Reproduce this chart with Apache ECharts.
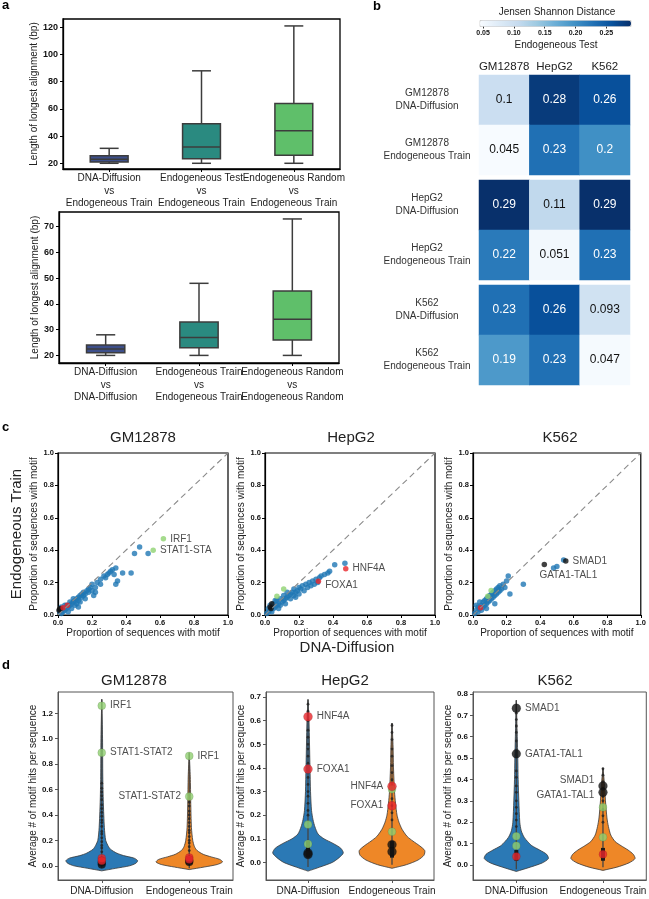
<!DOCTYPE html>
<html><head><meta charset="utf-8">
<script src="https://cdn.jsdelivr.net/npm/echarts@6/dist/echarts.min.js"></script>
<style>html,body{margin:0;padding:0;background:#fff}#c{width:649px;height:899px}</style>
</head><body><div id="c"></div>
<script>
const FONT = '"Liberation Sans", Arial, Helvetica, sans-serif';
const TXT = '#222';

// ---------------- Panel a data ----------------
const aTopCategories = ['DNA-Diffusion\nvs\nEndogeneous Train', 'Endogeneous Test\nvs\nEndogeneous Train', 'Endogeneous Random\nvs\nEndogeneous Train'];
const aTopStats = [[20, 21, 22.9, 25.6, 31], [20, 23.4, 32, 49, 88], [20, 26, 44, 64, 121]]; // min,q1,med,q3,max
const aTopTicks = [20, 40, 60, 80, 100, 120];
const aBotCategories = ['DNA-Diffusion\nvs\nDNA-Diffusion', 'Endogeneous Train\nvs\nEndogeneous Train', 'Endogeneous Random\nvs\nEndogeneous Random'];
const aBotStats = [[20, 21, 22.5, 24, 28], [20, 23, 27, 33, 48], [20, 26, 34, 45, 73]];
const aBotTicks = [20, 30, 40, 50, 60, 70];
const boxColors = ['#3d4f8a', '#2a8a80', '#5fbf6a'];

// ---------------- Panel b data ----------------
const hmColumns = ['GM12878', 'HepG2', 'K562'];
const hmRowsGM = ['GM12878\nDNA-Diffusion', 'GM12878\nEndogeneous Train'];
const hmRowsHep = ['HepG2\nDNA-Diffusion', 'HepG2\nEndogeneous Train'];
const hmRowsK = ['K562\nDNA-Diffusion', 'K562\nEndogeneous Train'];
const hmValuesGM = [[0.1, 0.28, 0.26], [0.045, 0.23, 0.2]];
const hmValuesHep = [[0.29, 0.11, 0.29], [0.22, 0.051, 0.23]];
const hmValuesK = [[0.23, 0.26, 0.093], [0.19, 0.23, 0.047]];
const cbTicks = [0.05, 0.10, 0.15, 0.20, 0.25];
const BLUES = ['#f7fbff', '#deebf7', '#c6dbef', '#9ecae1', '#6baed6', '#4292c6', '#2171b5', '#08519c', '#08306b'];

// ---------------- Panel c data ----------------
const cTicks = [0, 0.2, 0.4, 0.6, 0.8, 1.0];
const cGmBlue = [[0.01,0.02],[0.02,0.01],[0.02,0.03],[0.03,0.02],[0.03,0.04],[0.04,0.03],[0.05,0.04],[0.05,0.06],[0.06,0.05],[0.07,0.06],[0.07,0.08],[0.08,0.07],[0.09,0.08],[0.09,0.10],[0.10,0.09],[0.11,0.10],[0.11,0.07],[0.12,0.11],[0.12,0.09],[0.13,0.12],[0.14,0.11],[0.14,0.13],[0.15,0.12],[0.15,0.14],[0.16,0.13],[0.17,0.15],[0.18,0.14],[0.18,0.16],[0.19,0.17],[0.20,0.15],[0.20,0.19],[0.21,0.12],[0.22,0.17],[0.23,0.20],[0.25,0.19],[0.27,0.24],[0.28,0.23],[0.29,0.25],[0.30,0.26],[0.31,0.27],[0.32,0.28],[0.33,0.25],[0.34,0.29],[0.35,0.21],[0.34,0.19],[0.38,0.26],[0.43,0.26],[0.45,0.38],[0.48,0.42],[0.53,0.38],[0.02,0.05],[0.04,0.06],[0.06,0.02],[0.08,0.04],[0.10,0.06],[0.12,0.05],[0.13,0.08],[0.16,0.10],[0.22,0.14],[0.25,0.22]];
const cGmGreen = [[0.62, 0.47], [0.56, 0.40]];
const cGmGreenNames = ['IRF1', 'STAT1-STA'];
const cGmRed = [[0.055, 0.06], [0.03, 0.045]];
const cGmBlack = [[0.006, 0.03], [0.01, 0.035], [0.015, 0.04]];

const cHepBlue = [[0.01,0.01],[0.02,0.02],[0.02,0.04],[0.03,0.03],[0.04,0.02],[0.04,0.05],[0.05,0.04],[0.05,0.07],[0.06,0.05],[0.07,0.06],[0.07,0.09],[0.08,0.07],[0.09,0.06],[0.09,0.10],[0.10,0.08],[0.11,0.09],[0.11,0.12],[0.12,0.10],[0.13,0.11],[0.13,0.14],[0.14,0.12],[0.15,0.10],[0.15,0.13],[0.16,0.14],[0.17,0.12],[0.17,0.16],[0.18,0.14],[0.19,0.15],[0.20,0.13],[0.20,0.17],[0.21,0.16],[0.22,0.18],[0.23,0.15],[0.24,0.19],[0.25,0.17],[0.26,0.20],[0.27,0.18],[0.28,0.21],[0.29,0.19],[0.30,0.22],[0.31,0.20],[0.32,0.23],[0.33,0.24],[0.35,0.25],[0.37,0.26],[0.38,0.27],[0.41,0.31],[0.47,0.32],[0.08,0.04],[0.12,0.07],[0.18,0.11],[0.06,0.09],[0.03,0.06]];
const cHepGreen = [[0.11, 0.16], [0.07, 0.115]];
const cHepRed = [[0.475, 0.286], [0.314, 0.209]];
const cHepRedNames = ['HNF4A', 'FOXA1'];
const cHepBlack = [[0.04, 0.07], [0.035, 0.04], [0.03, 0.05]];

const cKBlue = [[0.01,0.01],[0.02,0.03],[0.03,0.02],[0.03,0.05],[0.04,0.04],[0.05,0.03],[0.05,0.06],[0.06,0.05],[0.06,0.08],[0.07,0.06],[0.07,0.09],[0.08,0.07],[0.08,0.10],[0.09,0.08],[0.09,0.11],[0.10,0.09],[0.10,0.12],[0.11,0.10],[0.11,0.13],[0.12,0.11],[0.12,0.14],[0.13,0.12],[0.13,0.15],[0.14,0.13],[0.14,0.16],[0.15,0.14],[0.15,0.17],[0.16,0.15],[0.16,0.18],[0.17,0.16],[0.18,0.19],[0.19,0.17],[0.20,0.21],[0.21,0.24],[0.13,0.07],[0.22,0.13],[0.30,0.19],[0.48,0.29],[0.50,0.30],[0.54,0.34],[0.02,0.06],[0.04,0.08],[0.08,0.04]];
const cKGreen = [[0.108, 0.152], [0.088, 0.115]];
const cKRed = [[0.045, 0.045]];
const cKBlack = [[0.553, 0.333], [0.425, 0.311]];
const cKBlackNames = ['SMAD1', 'GATA1-TAL1'];

// ---------------- Panel d data ----------------
const dCats = ['DNA-Diffusion', 'Endogeneous Train'];
const dGmTicks = [0, 0.2, 0.4, 0.6, 0.8, 1.0, 1.2];
const dHepTicks = [0, 0.1, 0.2, 0.3, 0.4, 0.5, 0.6, 0.7];
const dKTicks = [0, 0.1, 0.2, 0.3, 0.4, 0.5, 0.6, 0.7, 0.8];
// violin profiles: y values and half-width (fraction of category band)
const vGmDnaY = [-0.04,-0.02,0,0.02,0.04,0.06,0.08,0.10,0.13,0.16,0.2,0.3,0.5,0.7,1.0,1.31];
const vGmDnaW = [0,0.16,0.32,0.39,0.41,0.37,0.25,0.17,0.10,0.07,0.045,0.03,0.018,0.012,0.009,0];
const vGmEndoY = [-0.03,-0.01,0.01,0.03,0.05,0.07,0.09,0.12,0.15,0.2,0.3,0.5,0.7,0.89];
const vGmEndoW = [0,0.17,0.32,0.38,0.35,0.25,0.16,0.09,0.06,0.04,0.025,0.017,0.012,0];
const vHepDnaY = [-0.037,-0.02,0,0.02,0.04,0.06,0.08,0.10,0.12,0.15,0.18,0.22,0.3,0.4,0.5,0.6,0.69];
const vHepDnaW = [0,0.14,0.29,0.37,0.42,0.39,0.30,0.19,0.12,0.083,0.06,0.042,0.03,0.024,0.018,0.012,0];
const vHepEndoY = [-0.025,-0.01,0.01,0.03,0.05,0.07,0.09,0.11,0.14,0.17,0.2,0.25,0.3,0.4,0.5,0.59];
const vHepEndoW = [0,0.17,0.31,0.38,0.39,0.33,0.25,0.18,0.12,0.083,0.06,0.042,0.03,0.018,0.012,0];
const vKDnaY = [-0.03,-0.01,0.01,0.03,0.05,0.07,0.09,0.11,0.13,0.16,0.2,0.3,0.4,0.5,0.6,0.77];
const vKDnaW = [0,0.16,0.30,0.37,0.35,0.27,0.18,0.13,0.09,0.057,0.04,0.029,0.021,0.017,0.011,0];
const vKEndoY = [-0.025,-0.01,0.01,0.03,0.05,0.07,0.09,0.11,0.14,0.18,0.22,0.3,0.38,0.455];
const vKEndoW = [0,0.16,0.30,0.37,0.35,0.29,0.21,0.14,0.09,0.063,0.046,0.029,0.017,0];
// inner stick: [cat, low, q1, q3, high]
const dGmInner = [[0,-0.02,0.01,0.07,1.31],[1,-0.02,0.02,0.07,0.89]];
const dHepInner = [[0,-0.02,0.02,0.09,0.69],[1,-0.01,0.02,0.09,0.59]];
const dKInner = [[0,-0.02,0.02,0.07,0.77],[1,-0.01,0.02,0.08,0.455]];
// small strip dots
const dGmDots = [[0,0.11],[0,0.14],[0,0.16],[0,0.19],[0,0.22],[0,0.25],[0,0.27],[0,0.31],[0,0.34],[0,0.36],[0,0.39],[0,0.42],[0,0.45],[0,0.48],[0,0.52],[0,0.55],[0,0.58],[0,0.61],[0,0.65],[1,0.12],[1,0.15],[1,0.18],[1,0.2],[1,0.23],[1,0.26],[1,0.28],[1,0.31],[1,0.34],[1,0.37],[1,0.4],[1,0.43],[1,0.47],[1,0.5]];
const dHepDots = [[0,0.2],[0,0.22],[0,0.25],[0,0.28],[0,0.3],[0,0.33],[0,0.36],[0,0.42],[0,0.45],[0,0.48],[0,0.5],[0,0.53],[0,0.56],[0,0.6],[0,0.64],[0,0.67],[1,0.18],[1,0.21],[1,0.24],[1,0.27],[1,0.35],[1,0.38],[1,0.41],[1,0.45],[1,0.48],[1,0.52],[1,0.55],[1,0.58]];
const dKDots = [[0,0.18],[0,0.21],[0,0.24],[0,0.27],[0,0.3],[0,0.34],[0,0.37],[0,0.41],[0,0.44],[0,0.58],[0,0.62],[0,0.65],[0,0.68],[0,0.71],[1,0.2],[1,0.23],[1,0.26],[1,0.3],[1,0.32],[1,0.36],[1,0.39],[1,0.42],[1,0.45]];
// highlighted motifs: [cat, y, label, side, dy]
const dGmGreen = [[0,1.26,'IRF1','right',0],[0,0.89,'STAT1-STAT2','right',0],[1,0.865,'IRF1','right',0],[1,0.545,'STAT1-STAT2','left',0]];
const dGmRed = [[0,0.06],[0,0.04],[1,0.065],[1,0.05]];
const dGmBlack = [[0,0.01],[0,0.025],[1,0.03],[1,0.04]];
const dHepRed = [[0,0.617,'HNF4A','right',0],[0,0.395,'FOXA1','right',0],[1,0.322,'HNF4A','left',0],[1,0.24,'FOXA1','left',0]];
const dHepGreen = [[0,0.16],[0,0.078],[1,0.31],[1,0.13]];
const dHepBlack = [[0,0.04],[0,0.033],[1,0.075],[1,0.045]];
const dKBlack = [[0,0.733,'SMAD1','right',0],[0,0.52,'GATA1-TAL1','right',0],[1,0.37,'SMAD1','left',-6],[1,0.34,'GATA1-TAL1','left',3]];
const dKGreen = [[0,0.135],[0,0.09],[1,0.27],[1,0.13]];
const dKRed = [[0,0.04],[1,0.05]];

// ---------------- build ----------------
const grids = [], xAxes = [], yAxes = [], series = [];
function addGrid(g, x, y) { const i = grids.length; grids.push(g); x.gridIndex = i; y.gridIndex = i; xAxes.push(x); yAxes.push(y); return i; }

const tickLabel = (size) => ({ fontSize: size, fontWeight: 'bold', color: '#111', fontFamily: FONT });

// Panel a
function boxRender(params, api) {
  const c = api.value(0);
  const band = api.size([1, 0])[0];
  const bw = band * 0.41, cw = bw * 0.5;
  const pMin = api.coord([c, api.value(1)]), pQ1 = api.coord([c, api.value(2)]), pMed = api.coord([c, api.value(3)]),
        pQ3 = api.coord([c, api.value(4)]), pMax = api.coord([c, api.value(5)]);
  const x = pMin[0], st = { stroke: '#3c3c3c', lineWidth: 1.5 };
  return { type: 'group', children: [
    { type: 'line', shape: { x1: x, y1: pMin[1], x2: x, y2: pQ1[1] }, style: st },
    { type: 'line', shape: { x1: x, y1: pQ3[1], x2: x, y2: pMax[1] }, style: st },
    { type: 'line', shape: { x1: x - cw / 2, y1: pMin[1], x2: x + cw / 2, y2: pMin[1] }, style: st },
    { type: 'line', shape: { x1: x - cw / 2, y1: pMax[1], x2: x + cw / 2, y2: pMax[1] }, style: st },
    { type: 'rect', shape: { x: x - bw / 2, y: pQ3[1], width: bw, height: pQ1[1] - pQ3[1] }, style: { fill: boxColors[params.dataIndex], stroke: '#3c3c3c', lineWidth: 1.5 } },
    { type: 'line', shape: { x1: x - bw / 2, y1: pMed[1], x2: x + bw / 2, y2: pMed[1] }, style: st }
  ] };
}
function boxPanel(rect, cats, stats, min, max, ticks, gap) {
  const gi = addGrid(Object.assign({ show: true, borderColor: '#000', borderWidth: 1.3, containLabel: false }, rect),
    { type: 'category', data: cats, axisLine: { show: true, onZero: false, lineStyle: { color: '#000', width: 1.3 } },
      axisTick: { show: true, alignWithLabel: true, length: 3, lineStyle: { color: '#000' } },
      axisLabel: { interval: 0, fontSize: 10, lineHeight: 12.5, color: TXT, margin: 3, fontFamily: FONT, hideOverlap: false } },
    { type: 'value', min: min, max: max, splitLine: { show: false },
      axisLine: { show: true, onZero: false, lineStyle: { color: '#000', width: 1.3 } },
      axisTick: { show: true, length: 3, customValues: ticks, lineStyle: { color: '#000' } },
      axisLabel: Object.assign({ customValues: ticks, margin: 5 }, tickLabel(9)),
      name: 'Length of longest alignment (bp)', nameLocation: 'middle', nameGap: gap,
      nameTextStyle: { fontSize: 10, color: TXT, fontFamily: FONT } });
  series.push({ type: 'custom', xAxisIndex: gi, yAxisIndex: gi, renderItem: boxRender, clip: false,
    encode: { x: 0, y: [1, 2, 3, 4, 5] }, data: stats.map((s, i) => [i].concat(s)) });
}
boxPanel({ left: 63, top: 19, width: 277, height: 150 }, aTopCategories, aTopStats, 15.8, 126.1, aTopTicks, 24);
boxPanel({ left: 59, top: 212, width: 280, height: 151 }, aBotCategories, aBotStats, 17.05, 75.7, aBotTicks, 18);

// Panel b colorbar axis
const cbi = addGrid({ left: 480, top: 20.5, width: 151, height: 6, show: true, borderColor: '#aaa', borderWidth: 0.5 },
  { type: 'value', min: 0.045, max: 0.29, splitLine: { show: false }, axisLine: { show: false },
    axisTick: { show: true, length: 2, customValues: cbTicks, lineStyle: { color: '#333' } },
    axisLabel: Object.assign({ customValues: cbTicks, margin: 3, formatter: v => v.toFixed(2) }, tickLabel(7)) },
  { type: 'category', data: [''], show: false });
series.push({ type: 'scatter', xAxisIndex: cbi, yAxisIndex: cbi, data: [], silent: true });

const heatIdx = [];
[[hmRowsGM, hmValuesGM], [hmRowsHep, hmValuesHep], [hmRowsK, hmValuesK]].forEach((pair, g) => {
  const gi = addGrid({ left: 479, top: 75 + 105 * g, width: 151, height: 100 },
    { type: 'category', data: hmColumns, position: 'top', show: g === 0, axisLine: { show: false }, axisTick: { show: false },
      axisLabel: { interval: 0, hideOverlap: false, fontSize: 11.5, color: TXT, margin: 2, fontFamily: FONT } },
    { type: 'category', data: pair[0], inverse: true, axisLine: { show: false }, axisTick: { show: false },
      axisLabel: { interval: 0, align: 'center', margin: 52, fontSize: 10, lineHeight: 12.6, color: '#333', fontFamily: FONT } });
  const data = [];
  pair[1].forEach((row, r) => row.forEach((v, c) => data.push({ value: [c, r, v], label: { color: v > 0.15 ? '#fff' : '#111' } })));
  heatIdx.push(series.length);
  series.push({ type: 'heatmap', xAxisIndex: gi, yAxisIndex: gi, data: data, emphasis: { disabled: true },
    label: { show: true, fontSize: 12, fontFamily: FONT, formatter: p => String(p.value[2]) } });
});

// Panel c
function labeled(points, names, side, offset) {
  return points.map((p, i) => ({ value: p, label: names && names[i] ? { show: true, formatter: names[i], position: side || 'right', distance: 4, offset: offset ? offset[i] : [0, 0], fontSize: 10, color: TXT, fontFamily: FONT } : { show: false } }));
}
function scatterPanel(left, blue, black, red, green, lbl) {
  const gi = addGrid({ left: left, top: 453, width: 170, height: 162, show: true, borderColor: '#000', borderWidth: 1.2 },
    { type: 'value', min: 0, max: 1, interval: 0.2, splitLine: { show: false },
      axisLine: { show: true, lineStyle: { color: '#000', width: 1.2 } }, axisTick: { show: true, length: 3, lineStyle: { color: '#000' } },
      axisLabel: Object.assign({ margin: 4, formatter: v => v.toFixed(1) }, tickLabel(7.5)),
      name: 'Proportion of sequences with motif', nameLocation: 'middle', nameGap: 13, nameTextStyle: { fontSize: 10, color: TXT, fontFamily: FONT } },
    { type: 'value', min: 0, max: 1, interval: 0.2, splitLine: { show: false },
      axisLine: { show: true, lineStyle: { color: '#000', width: 1.2 } }, axisTick: { show: true, length: 3, lineStyle: { color: '#000' } },
      axisLabel: Object.assign({ margin: 4, formatter: v => v.toFixed(1) }, tickLabel(7.5)),
      name: 'Proportion of sequences with motif', nameLocation: 'middle', nameGap: 15, nameTextStyle: { fontSize: 10, color: TXT, fontFamily: FONT } });
  series.push({ type: 'line', xAxisIndex: gi, yAxisIndex: gi, data: [[0, 0], [1, 1]], symbol: 'none', silent: true,
    lineStyle: { color: '#8a8a8a', width: 1.1, type: [6, 4] } });
  series.push({ type: 'scatter', xAxisIndex: gi, yAxisIndex: gi, data: blue, symbolSize: 5.5, itemStyle: { color: '#1f77b4' } });
  series.push({ type: 'scatter', xAxisIndex: gi, yAxisIndex: gi, data: lbl.black || black, symbolSize: 5.5, itemStyle: { color: '#111' } });
  series.push({ type: 'scatter', xAxisIndex: gi, yAxisIndex: gi, data: lbl.red || red, symbolSize: 5.5, itemStyle: { color: '#e8262a' } });
  series.push({ type: 'scatter', xAxisIndex: gi, yAxisIndex: gi, data: lbl.green || green, symbolSize: 5.5, itemStyle: { color: '#8fd270' } });
}
scatterPanel(58, cGmBlue, cGmBlack, cGmRed, cGmGreen, { green: labeled(cGmGreen, cGmGreenNames, 'right') });
scatterPanel(265, cHepBlue, cHepBlack, cHepRed, cHepGreen, { red: labeled(cHepRed, cHepRedNames, 'right', [[0, 0], [0, 4]]) });
scatterPanel(473, cKBlue, cKBlack, cKRed, cKGreen, { black: cKBlack.map((p, i) => ({ value: p, label: { show: true, formatter: cKBlackNames[i], position: i === 0 ? 'right' : 'bottom', distance: i === 0 ? 4 : 3, offset: i === 0 ? [0, 0] : [24, 0], fontSize: 10, color: TXT, fontFamily: FONT } })) });

// Panel d
function violinRender(py, pw, color) {
  return function (params, api) {
    const c = api.value(0);
    const band = api.size([1, 0])[0];
    const right = [], left = [];
    for (let i = 0; i < py.length; i++) {
      const p = api.coord([c, py[i]]);
      right.push([p[0] + pw[i] * band, p[1]]);
      left.push([p[0] - pw[i] * band, p[1]]);
    }
    return { type: 'polygon', shape: { points: right.concat(left.reverse()), smooth: 0.25 },
      style: { fill: color, stroke: '#3a3a3a', lineWidth: 0.8 } };
  };
}
function innerRender(params, api) {
  const c = api.value(0);
  const a = api.coord([c, api.value(1)]), b = api.coord([c, api.value(2)]), d = api.coord([c, api.value(3)]), e = api.coord([c, api.value(4)]);
  return { type: 'group', children: [
    { type: 'line', shape: { x1: a[0], y1: a[1], x2: e[0], y2: e[1] }, style: { stroke: '#444', lineWidth: 1.3 } },
    { type: 'line', shape: { x1: b[0], y1: b[1], x2: d[0], y2: d[1] }, style: { stroke: '#1a1a1a', lineWidth: 4 } } ] };
}
function hl(points) {
  return points.map(p => ({ value: [p[0], p[1]], label: p[2] ? { show: true, formatter: p[2], position: p[3], distance: 4, offset: [0, p[4] || 0], fontSize: 10, color: TXT, fontFamily: FONT } : { show: false } }));
}
function violinPanel(rect, min, max, ticks, gap, vA, vB, inner, dots, groups) {
  const gi = addGrid(Object.assign({ top: 692, height: 188, show: true, borderColor: '#555', borderWidth: 1 }, rect),
    { type: 'category', data: dCats, axisLine: { show: true, onZero: false, lineStyle: { color: '#555' } },
      axisTick: { show: true, alignWithLabel: true, length: 3, lineStyle: { color: '#555' } },
      axisLabel: { fontSize: 10, color: TXT, margin: 6, fontFamily: FONT, interval: 0 } },
    { type: 'value', min: min, max: max, splitLine: { show: false },
      axisLine: { show: true, onZero: false, lineStyle: { color: '#555' } },
      axisTick: { show: true, length: 3, customValues: ticks, lineStyle: { color: '#555' } },
      axisLabel: Object.assign({ customValues: ticks, margin: 5, formatter: v => v.toFixed(1) }, tickLabel(8)),
      name: 'Average # of motif hits per sequence', nameLocation: 'middle', nameGap: gap,
      nameTextStyle: { fontSize: 10, color: TXT, fontFamily: FONT } });
  series.push({ type: 'custom', xAxisIndex: gi, yAxisIndex: gi, renderItem: violinRender(vA[0], vA[1], '#2b79b5'), encode: { x: 0, y: 1 }, data: [[0, vA[0][0]]] });
  series.push({ type: 'custom', xAxisIndex: gi, yAxisIndex: gi, renderItem: violinRender(vB[0], vB[1], '#ee8727'), encode: { x: 0, y: 1 }, data: [[1, vB[0][0]]] });
  series.push({ type: 'custom', xAxisIndex: gi, yAxisIndex: gi, renderItem: innerRender, encode: { x: 0, y: [1, 2, 3, 4] }, data: inner });
  series.push({ type: 'scatter', xAxisIndex: gi, yAxisIndex: gi, data: dots, symbolSize: 2.8, itemStyle: { color: '#222' } });
  groups.forEach(g => series.push({ type: 'scatter', xAxisIndex: gi, yAxisIndex: gi, data: hl(g[0]), symbolSize: g[2],
    itemStyle: { color: g[1], borderColor: 'rgba(0,0,0,0.25)', borderWidth: 0.5 } }));
}
violinPanel({ left: 58, width: 175 }, -0.112, 1.368, dGmTicks, 15, [vGmDnaY, vGmDnaW], [vGmEndoY, vGmEndoW], dGmInner, dGmDots,
  [[dGmBlack, '#111', 8], [dGmRed, '#e8262a', 8], [dGmGreen, '#90d070', 8]]);
violinPanel({ left: 266, width: 168 }, -0.0746, 0.7216, dHepTicks, 18, [vHepDnaY, vHepDnaW], [vHepEndoY, vHepEndoW], dHepInner, dHepDots,
  [[dHepBlack, '#111', 9], [dHepGreen, '#90d070', 8], [dHepRed, '#e8262a', 9]]);
violinPanel({ left: 473, width: 175 }, -0.070, 0.809, dKTicks, 17, [vKDnaY, vKDnaW], [vKEndoY, vKEndoW], dKInner, dKDots,
  [[dKRed, '#e8262a', 8], [dKGreen, '#90d070', 8], [dKBlack, '#111', 9]]);

// text decorations
function txt(text, x, y, size, opts) {
  return Object.assign({ type: 'text', x: x, y: y, silent: true,
    style: Object.assign({ text: text, fontSize: size, fontFamily: FONT, fill: TXT, align: 'center', verticalAlign: 'middle', textAlign: 'center', textVerticalAlign: 'middle' }, (opts && opts.style) || {}) },
    (opts && opts.el) || {});
}
const panelLetter = { style: { fontWeight: 'bold', align: 'left', textAlign: 'left', fill: '#000' } };
const graphics = [
  txt('a', 2, 5.5, 13, panelLetter), txt('b', 373, 6, 13, panelLetter), txt('c', 2, 427, 13, panelLetter), txt('d', 2, 665.5, 13, panelLetter),
  txt('Jensen Shannon Distance', 557, 12, 10), txt('Endogeneous Test', 556, 45, 10),
  txt('GM12878', 143, 437.5, 15), txt('HepG2', 351, 437.5, 15), txt('K562', 560, 437.5, 15),
  txt('DNA-Diffusion', 347, 648, 15),
  txt('Endogeneous Train', 17, 534, 15, { el: { rotation: Math.PI / 2 } }),
  txt('GM12878', 134, 680.5, 15), txt('HepG2', 345, 680.5, 15), txt('K562', 555, 680.5, 15)
];

const chart = echarts.init(document.getElementById('c'), null, { renderer: 'canvas' });
chart.setOption({
  animation: false,
  backgroundColor: '#fff',
  textStyle: { fontFamily: FONT },
  grid: grids, xAxis: xAxes, yAxis: yAxes, series: series,
  visualMap: [{ type: 'continuous', min: 0.045, max: 0.29, seriesIndex: heatIdx, orient: 'horizontal', left: 480, top: 20.5,
    itemWidth: 6, itemHeight: 151, calculable: false, padding: 0, inRange: { color: BLUES }, hoverLink: false }],
  graphic: { elements: graphics }
});
</script></body></html>
